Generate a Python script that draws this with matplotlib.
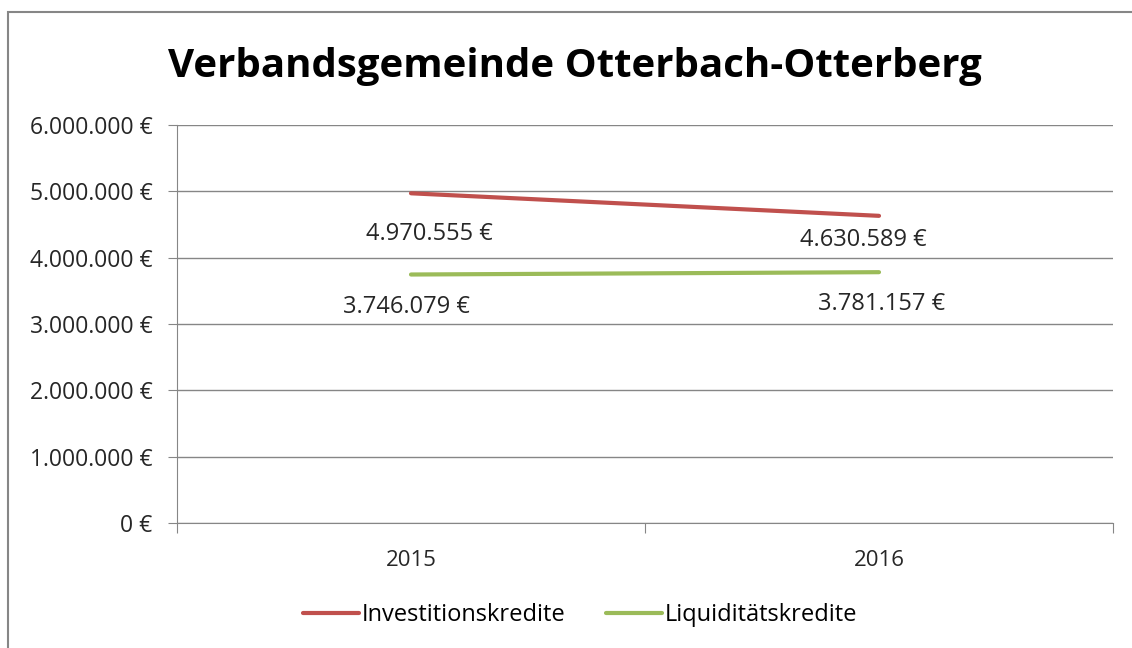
import matplotlib
matplotlib.use("Agg")
import matplotlib.pyplot as plt
from matplotlib.patches import Rectangle

years = ["2015", "2016"]
investitionskredite = [4970555, 4630589]
liquiditaetskredite = [3746079, 3781157]
series_names = ["Investitionskredite", "Liquiditätskredite"]
y_ticks = [0, 1000000, 2000000, 3000000, 4000000, 5000000, 6000000]

plt.rcParams['font.family'] = ['Open Sans', 'DejaVu Sans']

TEXT = "#262626"
GRID = "#868686"


def euro(v):
    """German thousands separator with euro sign"""
    return "{:,}".format(int(v)).replace(",", ".") + " €"


fig = plt.figure(figsize=(11.32, 6.48), dpi=100)
# chart frame, cut by the right and bottom image edge
fig.patches.append(Rectangle((8 / 1132, -0.1), 1.2, 1.1 - 12 / 648,
                             transform=fig.transFigure, fill=False,
                             edgecolor=GRID, linewidth=1.5))

ax = fig.add_axes([177 / 1132, 1 - 523 / 648, 936 / 1132, 398 / 648])
x = [0.5, 1.5]

ax.plot(x, investitionskredite, color="#C0504D", linewidth=3, label=series_names[0],
        solid_capstyle="round")
ax.plot(x, liquiditaetskredite, color="#9BBB59", linewidth=3, label=series_names[1],
        solid_capstyle="round")

# data labels, offsets as in the original
offsets_inv = [(13, -29.5), (-11.5, -17.5)]
offsets_liq = [(-3, -23.5), (1.5, -23)]
for xi, v, off in zip(x, investitionskredite, offsets_inv):
    ax.annotate(euro(v), (xi, v), xytext=off, textcoords="offset points",
                ha="center", va="center", fontsize=17, color=TEXT)
for xi, v, off in zip(x, liquiditaetskredite, offsets_liq):
    ax.annotate(euro(v), (xi, v), xytext=off, textcoords="offset points",
                ha="center", va="center", fontsize=17, color=TEXT)

ax.set_xlim(0, 2)
ax.set_ylim(0, 6000000)
ax.set_yticks(y_ticks)
ax.set_yticklabels([euro(v) for v in y_ticks], fontsize=16.5, color=TEXT)
ax.set_xticks([0, 1, 2])
ax.set_xticklabels([])
ax.set_xticks(x, minor=True)
ax.set_xticklabels(years, minor=True, fontsize=16, color=TEXT)
ax.tick_params(axis="x", which="major", direction="out", length=7, color=GRID)
ax.tick_params(axis="x", which="minor", length=0, pad=19.5)
ax.tick_params(axis="y", direction="out", length=6.5, color=GRID, pad=11)

ax.grid(axis="y", color=GRID, linewidth=1)
ax.set_axisbelow(True)
for side in ["top", "right"]:
    ax.spines[side].set_visible(False)
ax.spines["left"].set_color(GRID)
ax.spines["bottom"].set_color(GRID)

fig.text(575 / 1132, 1 - 67 / 648, "Verbandsgemeinde Otterbach-Otterberg",
         ha="center", va="center", fontsize=29, fontweight="bold", color="black")

fig.legend(loc="center", bbox_to_anchor=(580 / 1132, 1 - 615 / 648), ncol=2,
           frameon=False, fontsize=17, handlelength=2.4, handletextpad=0.1,
           columnspacing=1.7)

fig.savefig("out.png", dpi=100, facecolor="white")
